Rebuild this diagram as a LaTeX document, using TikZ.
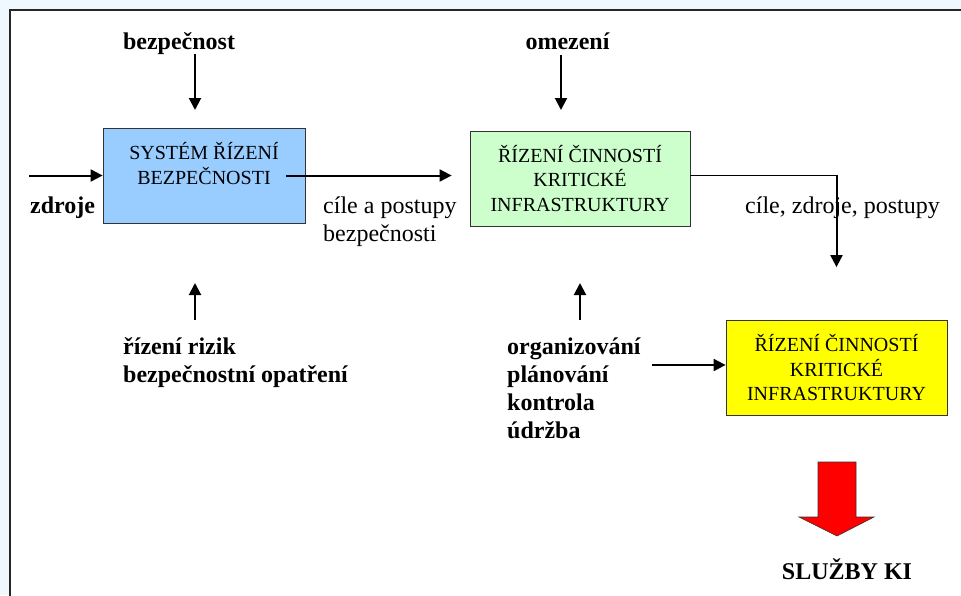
\documentclass[tikz,border=0pt]{standalone}
\usepackage{fontspec}
\setmainfont{Liberation Serif}
\usetikzlibrary{arrows.meta,calc}
\definecolor{okraj}{HTML}{F0F8FF}
\definecolor{modra}{HTML}{99CCFF}
\definecolor{zelena}{HTML}{CCFFCC}
\definecolor{zluta}{HTML}{FFFF00}
\tikzset{
  blok/.style={draw=black!80, line width=0.8pt, minimum height=95pt, align=center,
    inner sep=0pt, font=\fontsize{20}{24.5}\selectfont},
  popis/.style={inner sep=0pt, align=left, font=\fontsize{24}{28}\selectfont\bfseries},
  vystup/.style={inner sep=0pt, align=left, font=\fontsize{24}{28}\selectfont},
  sipka/.style={-{Triangle[length=12pt,width=12pt]}, line width=2pt}
}

\begin{document}
\begin{tikzpicture}[x=1pt,y=-1pt]
\clip (0,0) rectangle (961,595);
\fill[okraj] (0,0) rectangle (961,595);
\draw[fill=white, draw=black!85, line width=1.5pt] (10,10) rectangle (980,620);
% bloky
\node[blok, fill=modra, minimum width=202pt] (sys) at (204,175.5) {SYSTÉM ŘÍZENÍ\\BEZPEČNOSTI\\\mbox{}};
\node[blok, fill=zelena, minimum width=220pt] (cin) at (580,178.5) {ŘÍZENÍ ČINNOSTÍ\\KRITICKÉ\\INFRASTRUKTURY};
\node[blok, fill=zluta, minimum width=221pt] (ki) at (836.5,368) {ŘÍZENÍ ČINNOSTÍ\\KRITICKÉ\\INFRASTRUKTURY};
% popisky (base = posledni radek)
\node[popis, anchor=base] (bez) at (179,49) {bezpečnost};
\node[popis, anchor=base] (ome) at (567.5,49) {omezení};
\node[popis, anchor=base west] (zdr) at (30,213) {zdroje};
\node[vystup, anchor=base west] (cap) at (323,241) {cíle a postupy\\bezpečnosti};
\node[popis, anchor=base west] (riz) at (123,382) {řízení rizik\\bezpečnostní opatření};
\node[popis, anchor=base west] (org) at (507,438) {organizování\\plánování\\kontrola\\údržba};
\node[vystup, anchor=base west] (czp) at (745,213) {cíle, zdroje, postupy};
\node[popis, anchor=base] (sl) at (847,579) {SLUŽBY KI};
% sipky
\coordinate (zin) at (29,175.5);
\draw[sipka] (zin) -- (sys.west);
\draw[sipka] ([xshift=-19pt]sys.east) -- ($(sys.east -| cin.west)+(-18,0)$);
\coordinate (bezin) at (195,110);
\draw[sipka] (bezin |- bez.south) -- (bezin);
\coordinate (omein) at (561,110);
\draw[sipka] ([yshift=-6pt]omein |- ome.south) -- (omein);
\coordinate (rizup) at (195,320);
\coordinate (rizhead) at (195,283);
\draw[sipka] (rizup) -- (rizhead);
\coordinate (orgup) at (580,320);
\coordinate (orghead) at (580,283);
\draw[sipka] (orgup) -- (orghead);
\coordinate (orgout) at (652,365);
\draw[sipka] (orgout) -- (orgout -| ki.west);
\coordinate (ohyb) at (ki.north |- sys.east);
\draw[line width=0.8pt] (cin.east |- ohyb) -- (ohyb);
\draw[sipka] ([yshift=1pt]ohyb) -- ($(ki.north)+(0,-53)$);
% vystup
\coordinate (dolu) at (837,462);
\filldraw[fill=red, draw=black!80, line width=0.6pt] ($(dolu)+(-19,0)$) -- ++(38,0) -- ++(0,55)
  -- ++(18,0) -- ++(-37,19) -- ++(-38,-19) -- ++(19,0) -- cycle;
\end{tikzpicture}
\end{document}
